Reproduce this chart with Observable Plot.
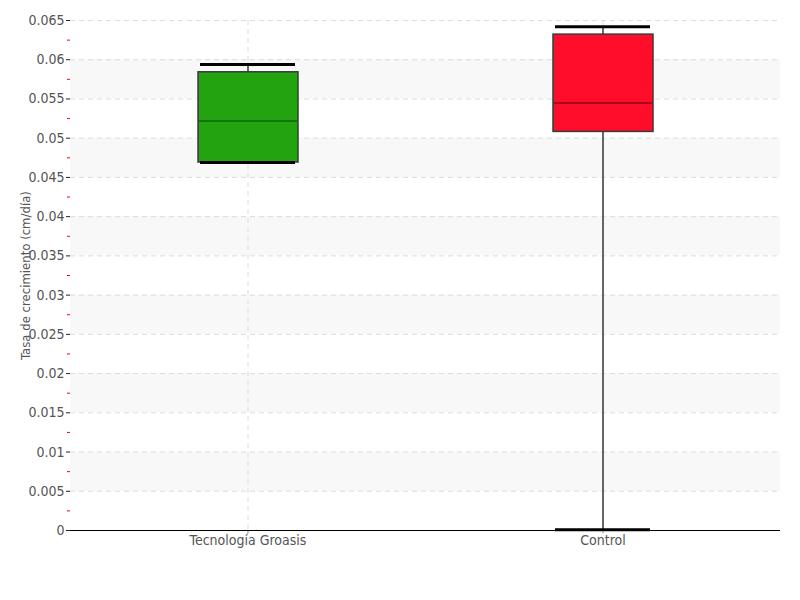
<!DOCTYPE html>
<html><head><meta charset="utf-8">
<script src="https://cdn.jsdelivr.net/npm/d3@7"></script>
<script src="https://cdn.jsdelivr.net/npm/@observablehq/plot@0.6"></script>
<style>body{margin:0;background:#fff} svg text{font-stretch:condensed}</style>
</head><body><div id="chart"></div>
<script>
const categories = ["Tecnología Groasis", "Control"];
const lowWhisker = [0.0469, 0.0001];
const q1 = [0.0469, 0.0508];
const median = [0.0522, 0.0545];
const q3 = [0.0584, 0.0632];
const highWhisker = [0.0594, 0.0642];
const fills = ["#22a30f", "#ff0d2b"];
const medianColors = ["#126407", "#8a0a18"];
const yTicks = [0, 0.005, 0.01, 0.015, 0.02, 0.025, 0.03, 0.035, 0.04, 0.045, 0.05, 0.055, 0.06, 0.065];
const yMinorTicks = [0.0025, 0.0075, 0.0125, 0.0175, 0.0225, 0.0275, 0.0325, 0.0375, 0.0425, 0.0475, 0.0525, 0.0575, 0.0625];
const bandLows = [0.005, 0.015, 0.025, 0.035, 0.045, 0.055];
const bandHighs = [0.01, 0.02, 0.03, 0.04, 0.05, 0.06];

const boxes = categories.map((c, i) => ({cat: c, lo: lowWhisker[i], q1: q1[i], med: median[i], q3: q3[i], hi: highWhisker[i], fill: fills[i], mc: medianColors[i]}));
const bands = bandLows.map((l, i) => ({l, h: bandHighs[i]}));
const font = "'DejaVu Sans', sans-serif";

const chart = Plot.plot({
  width: 800, height: 600,
  marginTop: 20, marginBottom: 70, marginLeft: 70, marginRight: 20,
  style: {fontFamily: font, fontSize: "14px", color: "#555", background: "#fff"},
  x: {domain: categories, padding: 0, label: null},
  y: {domain: [0, 0.065], label: null},
  marks: [
    Plot.rect(bands, {y1: "l", y2: "h", fill: "#f8f8f8"}),
    Plot.gridY(yTicks, {stroke: "#dcdcdc", strokeOpacity: 1, strokeDasharray: "5,4"}),
    Plot.gridX(categories, {stroke: "#dcdcdc", strokeOpacity: 1, strokeDasharray: "5,4"}),
    Plot.ruleX(boxes, {x: "cat", y1: "lo", y2: "hi", stroke: "#666", strokeWidth: 2}),
    Plot.rectY(boxes, {x: "cat", y1: "q1", y2: "q3", fill: "fill", stroke: "#3a3a3a", strokeWidth: 1.5, insetLeft: 128, insetRight: 127}),
    Plot.tickY(boxes, {x: "cat", y: "med", stroke: "mc", strokeWidth: 1.5, insetLeft: 129, insetRight: 128}),
    Plot.tickY(boxes, {x: "cat", y: "hi", stroke: "#000", strokeWidth: 3, insetLeft: 130, insetRight: 130}),
    Plot.tickY(boxes, {x: "cat", y: "lo", stroke: "#000", strokeWidth: 3, insetLeft: 130, insetRight: 130}),
    Plot.axisY(yMinorTicks, {tickSize: 3, stroke: "red", strokeOpacity: 1, tickFormat: () => "", label: null}),
    Plot.axisY(yTicks, {tickSize: 4, tickPadding: 2, stroke: "#222", strokeOpacity: 1, line: true, tickFormat: d => String(d), fill: "#555", label: null}),
    Plot.axisX(categories, {tickSize: 3, stroke: "#888", line: false, fill: "#555", tickPadding: 2, label: null}),
    Plot.ruleY([0], {stroke: "#000", strokeWidth: 1.2}),
    Plot.text(["Tasa de crecimiento (cm/día)"], {frameAnchor: "left", dx: -45, rotate: -90, textAnchor: "middle", fill: "#555", fontSize: 13})
  ]
});
document.getElementById("chart").appendChild(chart);
</script>
</body></html>
